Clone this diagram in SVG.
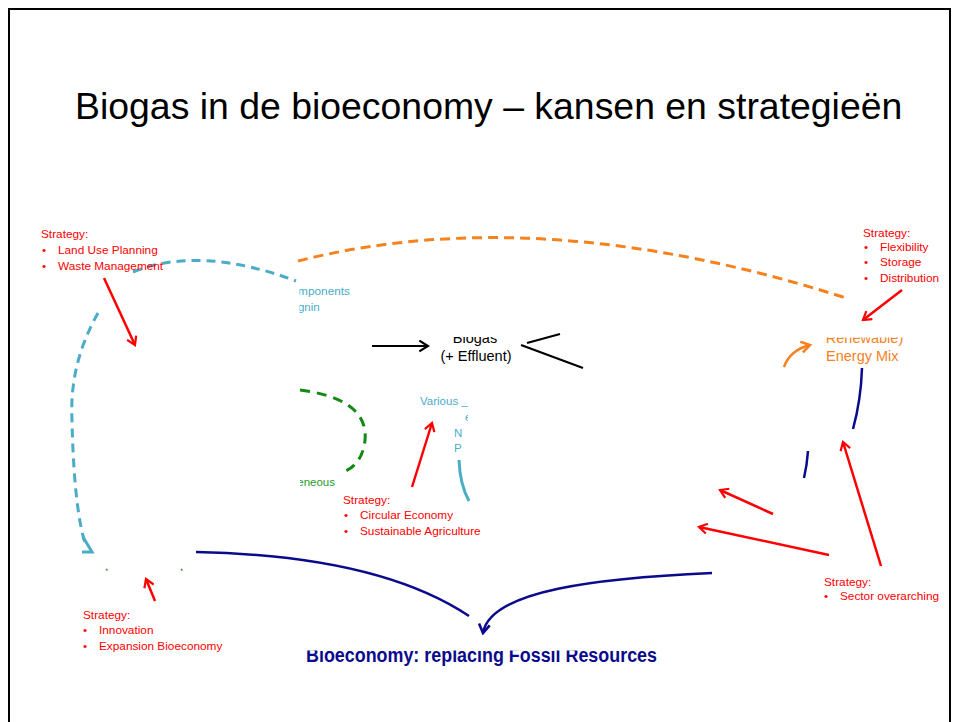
<svg xmlns="http://www.w3.org/2000/svg" width="954" height="722" viewBox="0 0 954 722">
<style>
  text { font-family: "Liberation Sans", Arial, sans-serif; }
  .title { font-size: 37.4px; fill: #000; }
  .strat { font-size: 11.8px; fill: #ff0000; }
  .cyan { font-size: 11.5px; fill: #4bacc6; }
  .green { font-size: 11.5px; fill: #1f9a1f; }
  .black { font-size: 14.5px; fill: #000; }
  .orange { font-size: 14.5px; fill: #f5821f; }
  .navyt { font-size: 20px; font-weight: bold; fill: #0a0a8c; }
  .red { stroke: #ff0000; stroke-width: 2.5; fill: none; marker-end: url(#arRed); }
  .dcyan { stroke: #4bacc6; stroke-width: 3; fill: none; stroke-dasharray: 9 6; }
  .dorange { stroke: #f5821f; stroke-width: 3; fill: none; stroke-dasharray: 10 6; }
  .dgreen { stroke: #128a12; stroke-width: 3; fill: none; stroke-dasharray: 10 7; }
  .navy { stroke: #0a0a8c; stroke-width: 2.5; fill: none; }
</style>
<defs>
  <marker id="arRed" viewBox="0 0 12 12" refX="10" refY="6" markerWidth="12" markerHeight="12" markerUnits="userSpaceOnUse" orient="auto">
    <path d="M2,1 L10,6 L2,11" fill="none" stroke="#ff0000" stroke-width="2.2"/>
  </marker>
  <marker id="arBlack" viewBox="0 0 12 12" refX="10" refY="6" markerWidth="13" markerHeight="13" markerUnits="userSpaceOnUse" orient="auto">
    <path d="M2,1 L10,6 L2,11" fill="none" stroke="#000" stroke-width="2"/>
  </marker>
  <marker id="arOrange" viewBox="0 0 12 12" refX="10" refY="6" markerWidth="13" markerHeight="13" markerUnits="userSpaceOnUse" orient="auto">
    <path d="M2,1 L10,6 L2,11" fill="none" stroke="#f5821f" stroke-width="2.4"/>
  </marker>
  <marker id="arNavy" viewBox="0 0 12 12" refX="10" refY="6" markerWidth="13" markerHeight="13" markerUnits="userSpaceOnUse" orient="auto">
    <path d="M2,1 L10,6 L2,11" fill="none" stroke="#0a0a8c" stroke-width="2.4"/>
  </marker>
  <clipPath id="cBiogas"><rect x="441" y="337" width="100" height="40"/></clipPath>
  <clipPath id="cEnergy"><rect x="825.5" y="337.5" width="120" height="40"/></clipPath>
  <clipPath id="cComp"><rect x="299.5" y="280" width="70" height="40"/></clipPath>
  <clipPath id="cNeous"><rect x="300" y="470" width="50" height="25"/></clipPath>
  <clipPath id="cVarious"><rect x="410" y="388" width="58" height="70"/></clipPath>
  <clipPath id="cBio"><rect x="290" y="650.5" width="400" height="30"/></clipPath>
</defs>

<rect x="0" y="0" width="954" height="722" fill="#fff"/>
<rect x="9" y="9" width="941" height="730" fill="none" stroke="#000" stroke-width="2"/>

<g id="title">
  <text class="title" x="75" y="119">Biogas in de bioeconomy – kansen en strategieën</text>
</g>

<g id="connectors">
  <path class="dcyan" d="M 98,313 C 80,345 70,380 72,420 C 73,470 77,520 86,546"/>
  <path d="M 83,537 L 92,552 L 82,552" fill="none" stroke="#4bacc6" stroke-width="3"/>
  <path class="dcyan" d="M 133,272 Q 200,245 296,281"/>
  <path class="dorange" d="M 298,261 Q 540,200 846,298"/>
  <path d="M 784,367 Q 790,350 810,345" fill="none" stroke="#f5821f" stroke-width="2.5" marker-end="url(#arOrange)"/>
  <path class="dgreen" d="M 300,390 C 340,395 368,410 365,440 C 363,460 352,470 340,473"/>
  <path d="M 106,569 l 1.5,1.5 M 181,569 l 1.5,1.5" stroke="#2a9a2a" stroke-width="1.5"/>
  <path d="M 372,346 L 428,346" stroke="#000" stroke-width="2.2" fill="none" marker-end="url(#arBlack)"/>
  <path d="M 521,345 L 583,368 M 527,343 L 560,334" stroke="#000" stroke-width="2.2" fill="none"/>
  <path d="M 459,460 Q 460,485 469,501" stroke="#4bacc6" stroke-width="3" fill="none"/>
  <path class="navy" d="M 862,368 Q 861,400 853,429"/>
  <path class="navy" d="M 808,451 Q 807,465 804,478"/>
  <path class="navy" d="M 196,552 C 300,554 400,570 469,616"/>
  <path class="navy" d="M 712,573 C 600,578 490,590 483,633" marker-end="url(#arNavy)"/>
  <path class="red" d="M 104,278 L 135,345"/>
  <path class="red" d="M 412,487 L 432,423"/>
  <path class="red" d="M 155,601 L 146,579"/>
  <path class="red" d="M 902,290 L 863,320"/>
  <path class="red" d="M 881,566 L 843,442"/>
  <path class="red" d="M 773,514 L 720,490"/>
  <path class="red" d="M 829,555 L 699,527"/>
</g>

<g id="strategy-land-use">
  <text class="strat" x="41" y="238">Strategy:</text>
  <text class="strat" y="254"><tspan x="42">•</tspan><tspan x="58">Land Use Planning</tspan></text>
  <text class="strat" y="270"><tspan x="42">•</tspan><tspan x="58">Waste Management</tspan></text>
</g>

<g id="strategy-flexibility">
  <text class="strat" x="863" y="237">Strategy:</text>
  <text class="strat" y="251"><tspan x="864">•</tspan><tspan x="880">Flexibility</tspan></text>
  <text class="strat" y="266"><tspan x="864">•</tspan><tspan x="880">Storage</tspan></text>
  <text class="strat" y="282"><tspan x="864">•</tspan><tspan x="880">Distribution</tspan></text>
</g>

<g id="strategy-circular">
  <text class="strat" x="343" y="504">Strategy:</text>
  <text class="strat" y="519"><tspan x="344">•</tspan><tspan x="360">Circular Economy</tspan></text>
  <text class="strat" y="535"><tspan x="344">•</tspan><tspan x="360">Sustainable Agriculture</tspan></text>
</g>

<g id="strategy-innovation">
  <text class="strat" x="83" y="619">Strategy:</text>
  <text class="strat" y="634"><tspan x="83">•</tspan><tspan x="99">Innovation</tspan></text>
  <text class="strat" y="650"><tspan x="83">•</tspan><tspan x="99">Expansion Bioeconomy</tspan></text>
</g>

<g id="strategy-sector">
  <text class="strat" x="824" y="586">Strategy:</text>
  <text class="strat" y="600"><tspan x="824">•</tspan><tspan x="840">Sector overarching</tspan></text>
</g>

<g id="node-components" clip-path="url(#cComp)">
  <text class="cyan" x="283" y="295" textLength="67" lengthAdjust="spacingAndGlyphs">Components</text>
  <text class="cyan" x="289" y="311">Lignin</text>
</g>

<g id="node-biogas" clip-path="url(#cBiogas)">
  <text class="black" x="475" y="343" text-anchor="middle">Biogas</text>
  <text class="black" x="476" y="361" text-anchor="middle">(+ Effluent)</text>
</g>

<g id="node-energy-mix" clip-path="url(#cEnergy)">
  <text class="orange" x="821" y="343">(Renewable)</text>
  <text class="orange" x="826" y="361">Energy Mix</text>
</g>

<g id="node-neous" clip-path="url(#cNeous)">
  <text class="green" x="335" y="486" text-anchor="end">Heterogeneous</text>
</g>

<g id="node-various" clip-path="url(#cVarious)">
  <text class="cyan" x="420" y="405">Various _</text>
  <text class="cyan" x="465" y="421">e</text>
  <text class="cyan" x="454" y="437">N</text>
  <text class="cyan" x="454" y="452">P</text>
</g>

<g id="node-bioeconomy" clip-path="url(#cBio)">
  <text class="navyt" x="306" y="662" textLength="351" lengthAdjust="spacingAndGlyphs">Bioeconomy: replacing Fossil Resources</text>
</g>
</svg>
